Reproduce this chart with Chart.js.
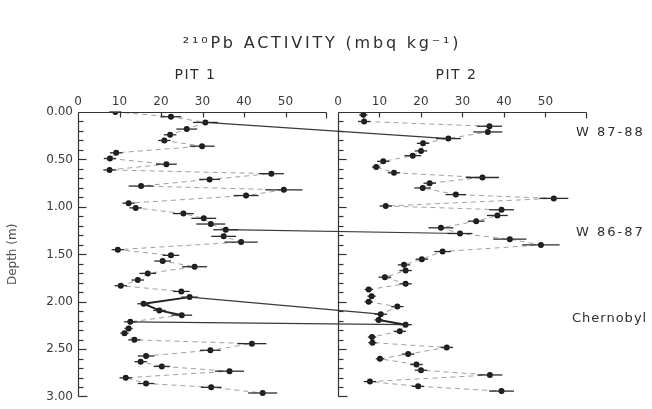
<!DOCTYPE html>
<html>
<head>
<meta charset="utf-8">
<script src="https://cdn.jsdelivr.net/npm/chart.js@4.4.1/dist/chart.umd.min.js"></script>
<style>
  html, body { margin: 0; padding: 0; background: #fff; }
  #wrap { width: 652px; height: 409px; position: relative; }
</style>
</head>
<body>
<div id="wrap"><canvas id="pbChart"></canvas></div>
<script>
// depth (m) and 210Pb activity (mbq/kg)
const depth1 = [0.00,0.05,0.11,0.18,0.24,0.30,0.36,0.43,0.49,0.55,0.61,0.65,0.71,0.78,0.82,0.88,0.96,1.01,1.07,1.12,1.18,1.24,1.31,1.37,1.45,1.51,1.57,1.63,1.70,1.77,1.83,1.89,1.95,2.02,2.09,2.14,2.21,2.28,2.33,2.40,2.44,2.51,2.57,2.63,2.68,2.73,2.80,2.86,2.90,2.96];
const act1 = [9.0,22.4,30.7,26.2,22.2,20.8,29.9,9.2,7.7,21.3,7.6,46.6,31.7,15.2,49.6,40.5,12.2,13.9,25.4,30.3,32.0,35.6,35.1,39.3,9.6,22.4,20.4,28.1,16.8,14.4,10.3,24.9,26.9,15.8,19.6,25.0,12.6,12.2,11.2,13.6,41.9,31.9,16.4,15.1,20.2,36.5,11.5,16.4,32.1,44.5];
const err1 = [1.5,2.5,3,2.5,1.5,1.5,3,1.5,1.5,2.5,1.5,3,2.5,3,4.5,3,1.5,1.5,2.5,3,3.5,3,3,4,1.5,2,2,3,2,1.5,1.5,2,2,1.5,1.5,2.5,1.5,1,1,1.5,3.5,2.5,2,1.5,2,3.5,1.5,2,2.5,3.5];

const depth2 = [0.03,0.10,0.15,0.21,0.28,0.33,0.41,0.46,0.52,0.58,0.64,0.69,0.75,0.80,0.87,0.91,0.99,1.03,1.09,1.15,1.22,1.28,1.34,1.40,1.47,1.55,1.61,1.67,1.74,1.81,1.87,1.94,2.00,2.05,2.13,2.19,2.24,2.31,2.37,2.43,2.48,2.55,2.60,2.66,2.72,2.77,2.84,2.89,2.94];
const act2 = [6.1,6.3,36.5,36.1,26.6,20.5,20.0,18.0,10.9,9.2,13.5,34.8,22.1,20.4,28.4,52.0,11.5,39.4,38.4,33.3,24.8,29.4,41.4,48.9,25.2,20.2,15.9,16.3,11.3,16.3,7.4,8.1,7.4,14.3,10.3,9.8,16.3,14.9,8.2,8.3,26.2,16.9,10.1,18.9,20.0,36.6,7.7,19.3,39.4];
const err2 = [1,1.5,3,3.5,3,1.5,1.5,2,1.5,1,1.5,4,1.5,2,2.5,3.5,1.5,3,2.5,2,3,3,4,4.5,2,1.5,1.5,1.5,1.5,1.5,1,1,1,1.5,1.5,1,1.5,1.5,1,1,1.5,1.5,1,1.5,1.5,3,1.5,1.5,3];

// segments drawn solid (start index of segment)
const solid1 = [32,33,34];
const solid2 = [34,35];

// correlated layers: point index in pit 1 -> point index in pit 2
const linkPit1 = [2,21,32,36];
const linkPit2 = [4,21,34,36];
const horizons = ['W 87-88','W 86-87','Chernobyl'];

const xTicks = [0,10,20,30,40,50];
const yTicks = [0,0.5,1,1.5,2,2.5,3];

const OFF = 62.65; // pit 2 drawn to the right of pit 1 on one scale
const FONT = 'DejaVu Sans';

function pts(xs, ys, shift) {
  return xs.map((v, i) => ({x: v + shift, y: ys[i]}));
}

function profile(xs, ys, errs, shift, solid) {
  return {
    data: pts(xs, ys, shift),
    errors: errs,
    showLine: true,
    borderColor: '#a0a0a0',
    borderWidth: 1,
    borderDash: [5, 4],
    segment: {
      borderDash: ctx => solid.includes(ctx.p0DataIndex) ? [] : undefined,
      borderColor: ctx => solid.includes(ctx.p0DataIndex) ? '#222' : undefined,
      borderWidth: ctx => solid.includes(ctx.p0DataIndex) ? 2 : undefined
    },
    pointRadius: 3,
    pointBackgroundColor: '#1a1a1a',
    pointBorderWidth: 0,
    order: 1
  };
}

const datasets = [
  profile(act1, depth1, err1, 0, solid1),
  profile(act2, depth2, err2, OFF, solid2)
];
linkPit1.forEach((a, k) => {
  const b = linkPit2[k];
  datasets.push({
    data: [{x: act1[a], y: depth1[a]}, {x: OFF + act2[b], y: depth2[b]}],
    showLine: true,
    borderColor: '#3a3a3a',
    borderWidth: 1.2,
    pointRadius: 0,
    order: 2
  });
});

function seg(ctx, ax, ay, bx, by) {
  ctx.beginPath();
  ctx.moveTo(ax, ay);
  ctx.lineTo(bx, by);
  ctx.stroke();
}

// horizontal error bars
const errorBars = {
  id: 'errorBars',
  afterDatasetsDraw(chart) {
    const ctx = chart.ctx, xs = chart.scales.x;
    ctx.save();
    ctx.strokeStyle = '#2a2a2a';
    ctx.lineWidth = 1.3;
    chart.data.datasets.forEach((ds, i) => {
      if (!ds.errors) return;
      const meta = chart.getDatasetMeta(i);
      ds.data.forEach((d, j) => {
        const y = meta.data[j].y;
        seg(ctx, xs.getPixelForValue(d.x - ds.errors[j]), y, xs.getPixelForValue(d.x + ds.errors[j]), y);
      });
    });
    ctx.restore();
  }
};

// panel frames with inward ticks, titles and horizon names
const labels = {
  id: 'labels',
  afterDraw(chart) {
    const ctx = chart.ctx, xs = chart.scales.x, ys = chart.scales.y;
    const area = chart.chartArea;
    ctx.save();
    ctx.setLineDash([]);
    ctx.strokeStyle = '#333333';
    ctx.lineWidth = 1.2;
    [0, OFF].forEach(p => {
      const x0 = Math.round(xs.getPixelForValue(p)) + 0.5;
      const x1 = Math.round(xs.getPixelForValue(p + 60)) - 0.5;
      const t = Math.round(area.top) + 0.5;
      const b = Math.round(area.bottom) - 0.5;
      seg(ctx, x0, t, x1, t);
      seg(ctx, x0, t, x0, b);
      seg(ctx, x0, b, x0 + 9, b);
      seg(ctx, x1, t, x1, t + 6);
      xTicks.forEach(v => {
        if (v === 0) return;
        const x = Math.round(xs.getPixelForValue(p + v)) + 0.5;
        seg(ctx, x, t, x, t + 5);
      });
      for (let i = 1; i < 30; i++) {
        const y = Math.round(ys.getPixelForValue(i / 10)) + 0.5;
        seg(ctx, x0, y, x0 + (i % 5 === 0 ? 8 : 5), y);
      }
    });

    ctx.fillStyle = '#2e2e2e';
    ctx.textBaseline = 'middle';
    ctx.textAlign = 'center';
    ctx.letterSpacing = '2.8px';
    ctx.font = '16px "' + FONT + '"';
    ctx.fillText('²¹⁰Pb ACTIVITY (mbq kg⁻¹)', 322, 44);
    ctx.letterSpacing = '1.5px';
    ctx.font = '14px "' + FONT + '"';
    ctx.fillText('PIT 1', xs.getPixelForValue(30) - 7, 75);
    ctx.fillText('PIT 2', xs.getPixelForValue(OFF + 30) - 6, 75);
    ctx.textAlign = 'left';
    ctx.font = '13px "' + FONT + '"';
    ctx.letterSpacing = '2px';
    ctx.fillText(horizons[0], 576, ys.getPixelForValue(0.22));
    ctx.fillText(horizons[1], 576, ys.getPixelForValue(1.27));
    ctx.letterSpacing = '1px';
    ctx.fillText(horizons[2], 572, ys.getPixelForValue(2.18));
    ctx.restore();
  }
};

new Chart(document.getElementById('pbChart'), {
  type: 'scatter',
  data: { datasets: datasets },
  options: {
    responsive: true,
    maintainAspectRatio: false,
    animation: false,
    layout: { padding: { left: 2, right: 65, top: 0, bottom: 6 } },
    plugins: { legend: { display: false }, tooltip: { enabled: false }, title: { display: false } },
    scales: {
      x: {
        type: 'linear',
        position: 'top',
        min: 0,
        max: OFF + 60,
        afterBuildTicks: axis => {
          axis.ticks = xTicks.map(v => ({value: v})).concat(xTicks.map(v => ({value: v + OFF})));
        },
        afterFit: axis => { axis.height = 112; },
        grid: { display: false, drawTicks: false },
        border: { display: false },
        ticks: {
          autoSkip: false,
          maxRotation: 0,
          padding: 3,
          color: '#3a3a3a',
          font: { family: FONT, size: 12 },
          callback: v => String(Math.round(v >= OFF - 0.01 ? v - OFF : v))
        }
      },
      y: {
        type: 'linear',
        reverse: true,
        min: 0,
        max: 3,
        afterBuildTicks: axis => { axis.ticks = yTicks.map(v => ({value: v})); },
        afterFit: axis => { axis.width = 76; },
        grid: { display: false, drawTicks: false },
        border: { display: false },
        ticks: {
          padding: 5,
          color: '#3a3a3a',
          font: { family: FONT, size: 12 },
          callback: v => v.toFixed(2)
        },
        title: {
          display: true,
          text: 'Depth (m)',
          color: '#555',
          font: { family: FONT, size: 12 },
          padding: 4
        }
      }
    }
  },
  plugins: [errorBars, labels]
});
</script>
</body>
</html>
